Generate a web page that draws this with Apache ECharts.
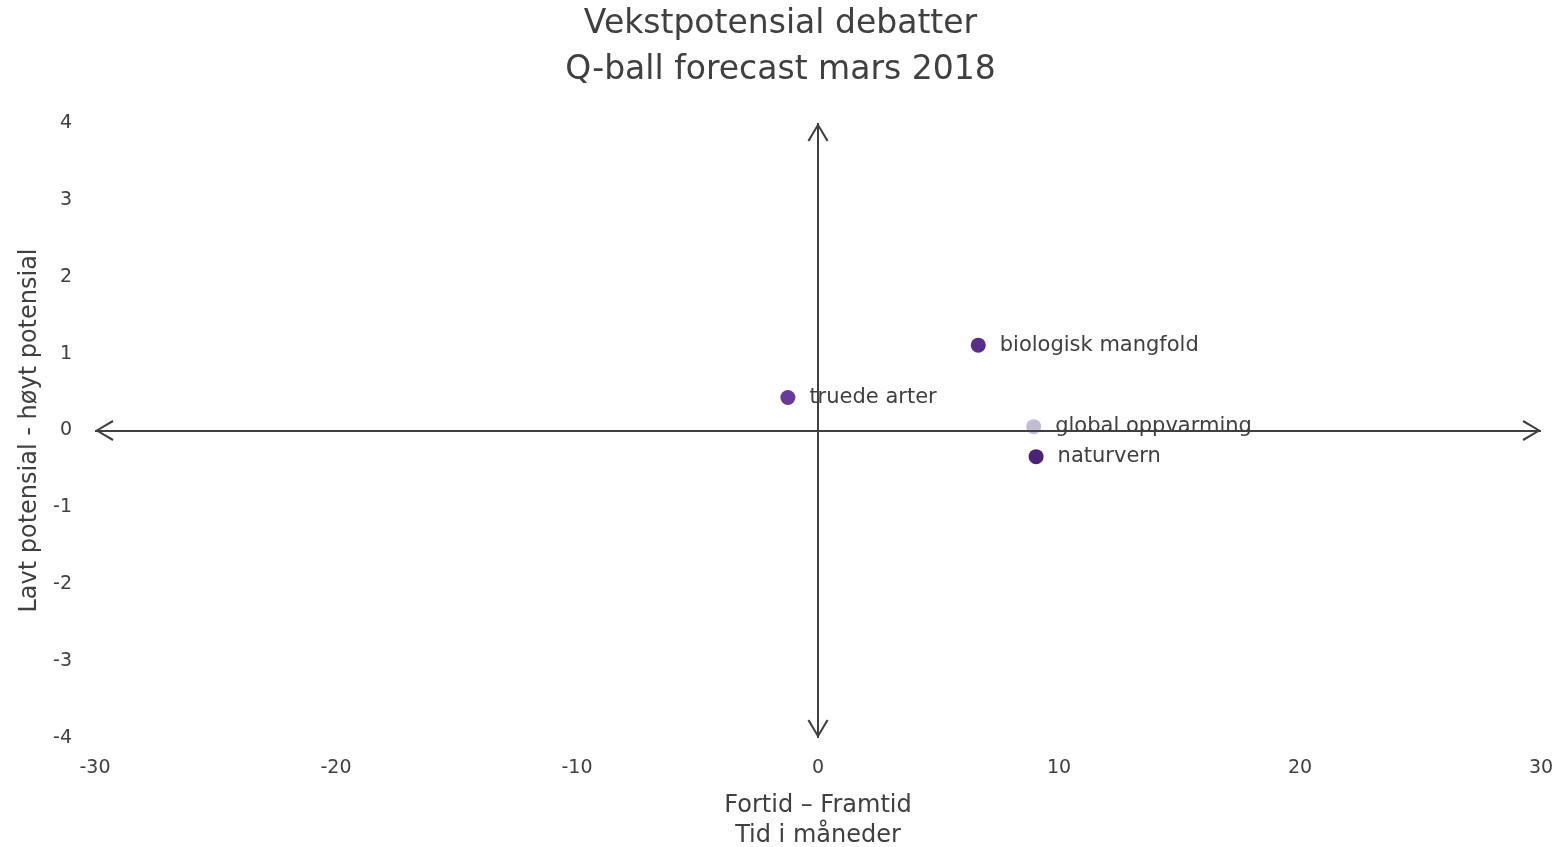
<!DOCTYPE html>
<html><head><meta charset="utf-8">
<script src="https://cdn.jsdelivr.net/npm/echarts@6/dist/echarts.min.js"></script>
<style>html,body{margin:0;padding:0;background:#fff}#c{width:1561px;height:847px}</style>
</head><body><div id="c"></div>
<script>
const names = ['biologisk mangfold', 'truede arter', 'global oppvarming', 'naturvern'];
const xValues = [6.65, -1.25, 8.95, 9.05];
const yValues = [1.11, 0.43, 0.05, -0.34];
const colors = ['#5b2d8a', '#6a3a9a', '#c3bdd3', '#4a2375'];
const xTicks = [-30, -20, -10, 0, 10, 20, 30];
const yTicks = [-4, -3, -2, -1, 0, 1, 2, 3, 4];

const FONT = 'DejaVu Sans';
const TXT = '#404040';
// open chevron; a degenerate sub-path keeps the tip at the symbol centre
const chev = 'path://M0,-18 L0.01,-18 Z M0,0 L10,17 L8.2,18 L0,3.6 L-8.2,18 L-10,17 Z';

const chart = echarts.init(document.getElementById('c'));
chart.setOption({
  animation: false,
  title: {
    text: 'Vekstpotensial debatter\nQ-ball forecast mars 2018',
    left: 'center', top: -4,
    textStyle: { fontFamily: FONT, fontSize: 33, fontWeight: 'normal', color: TXT, lineHeight: 46 }
  },
  grid: { left: 95, right: 20, top: 123, bottom: 109, outerBoundsMode: 'none', containLabel: false },
  xAxis: {
    type: 'value', min: xTicks[0], max: xTicks[xTicks.length - 1], interval: 10,
    axisLine: { show: false }, axisTick: { show: false }, splitLine: { show: false },
    axisLabel: { fontFamily: FONT, fontSize: 19, color: TXT, margin: 21 },
    name: 'Fortid – Framtid\nTid i måneder', nameLocation: 'middle', nameGap: 53,
    nameTextStyle: { fontFamily: FONT, fontSize: 24, color: TXT, lineHeight: 30 }
  },
  yAxis: {
    type: 'value', min: yTicks[0], max: yTicks[yTicks.length - 1], interval: 1,
    axisLine: { show: false }, axisTick: { show: false }, splitLine: { show: false },
    axisLabel: { fontFamily: FONT, fontSize: 19, color: TXT, margin: 23 },
    name: 'Lavt potensial - høyt potensial', nameLocation: 'middle', nameGap: 53,
    nameTextStyle: { fontFamily: FONT, fontSize: 24, color: TXT }
  },
  series: [{
    type: 'scatter',
    symbolSize: 15,
    data: names.map((n, i) => ({
      name: n, value: [xValues[i], yValues[i]],
      itemStyle: { color: colors[i], opacity: 1 }
    })),
    label: {
      show: true, position: 'right', distance: 14,
      formatter: p => p.name,
      fontFamily: FONT, fontSize: 21, color: TXT, opacity: 1
    },
    markLine: {
      silent: true,
      symbol: [chev, chev],
      symbolSize: [21, 37],
      lineStyle: { color: '#404040', width: 2, type: 'solid', opacity: 1 },
      itemStyle: { color: '#404040' },
      label: { show: false },
      data: [
        [{ coord: [xTicks[0], 0] }, { coord: [xTicks[xTicks.length - 1], 0] }],
        [{ coord: [0, yTicks[0]] }, { coord: [0, yTicks[yTicks.length - 1]] }]
      ]
    },
    z: 3
  }]
});
</script></body></html>
